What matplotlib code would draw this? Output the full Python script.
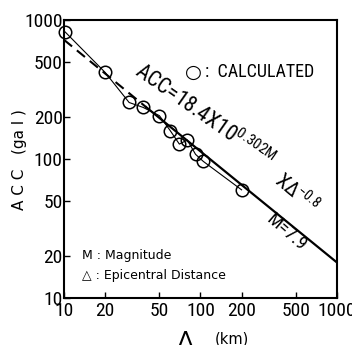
import matplotlib
matplotlib.use('Agg')
import matplotlib.pyplot as plt
from matplotlib import font_manager

# calculated points (epicentral distance km, acceleration gal)
dist = [10.2, 20, 30, 38, 50, 60, 70, 80, 92, 105, 200]
acc = [820, 420, 255, 235, 205, 160, 128, 137, 108, 96, 60]

reg_dash_x = [10, 40]
reg_dash_y = [720, 236]
reg_x = [40, 1000]
reg_y = [236, 18]

ticks = [10, 20, 50, 100, 200, 500, 1000]
tick_labels = ['10', '20', '50', '100', '200', '500', '1000']

names = set(f.name for f in font_manager.fontManager.ttflist)
narrow = [n for n in ['DejaVu Sans Condensed', 'Liberation Sans Narrow',
                      'Roboto Condensed', 'Liberation Sans'] if n in names]
narrow.append('DejaVu Sans')
cond = narrow[0] != 'Liberation Sans'
sz = 14 if cond else 12
plt.rcParams['mathtext.default'] = 'regular'

W, H = 352, 345
fig = plt.figure(figsize=(W / 100, H / 100), dpi=100)
ax = fig.add_axes([64 / W, 1 - 298 / H, (337 - 64) / W, (298 - 20) / H])


def px(x, y):
    return x / W, 1 - y / H


ax.plot(dist, acc, color='black', lw=0.8, marker='o', ms=9, mfc='none',
        mec='black', mew=1.1, clip_on=False, zorder=3)
ax.plot(reg_dash_x, reg_dash_y, color='black', lw=1.5, ls=(0, (5, 3)))
ax.plot(reg_x, reg_y, color='black', lw=1.6)

ax.set_xscale('log')
ax.set_yscale('log')
ax.set_xlim(10, 1000)
ax.set_ylim(10, 1000)
ax.set_xticks(ticks)
ax.set_xticklabels(tick_labels, family=narrow, fontsize=sz)
ax.set_yticks(ticks)
ax.set_yticklabels(tick_labels, family=narrow, fontsize=sz)
ax.minorticks_off()
ax.tick_params(direction='in', length=4, width=1, top=False, right=False)
ax.tick_params(axis='y', pad=1)
ax.tick_params(axis='x', pad=3)
for s in ax.spines.values():
    s.set_linewidth(1.5)

fig.text(*px(193, 72), '○', fontsize=14, ha='center', va='center')
fig.text(*px(205, 72), ':  CALCULATED', family=narrow, fontsize=sz - 1,
         ha='left', va='center')
fig.text(*px(204, 116), 'ACC=18.4X10$^{0.302M}$', family=narrow,
         fontsize=sz + 1.5, rotation=-35, rotation_mode='anchor',
         ha='center', va='center')
fig.text(*px(296, 193), 'XΔ$^{-0.8}$', family=narrow, fontsize=sz + 0.5,
         rotation=-40, rotation_mode='anchor', ha='center', va='center')
fig.text(*px(287, 233), 'M=7.9', family=narrow, fontsize=sz - 0.5,
         rotation=-41, rotation_mode='anchor', ha='center', va='center')
fig.text(*px(82, 255), 'M : Magnitude', fontsize=9, ha='left', va='center')
fig.text(*px(82, 276), '△ : Epicentral Distance', fontsize=9,
         ha='left', va='center')

fig.text(*px(20, 160), 'A C C   (ga l )', fontsize=11, rotation=90,
         ha='center', va='center')
fig.text(*px(185, 347), 'Δ', fontsize=16, ha='center', va='baseline')
fig.text(*px(232, 344), '(km)', fontsize=10.5, ha='center', va='baseline')

fig.savefig('out.png', dpi=100)
